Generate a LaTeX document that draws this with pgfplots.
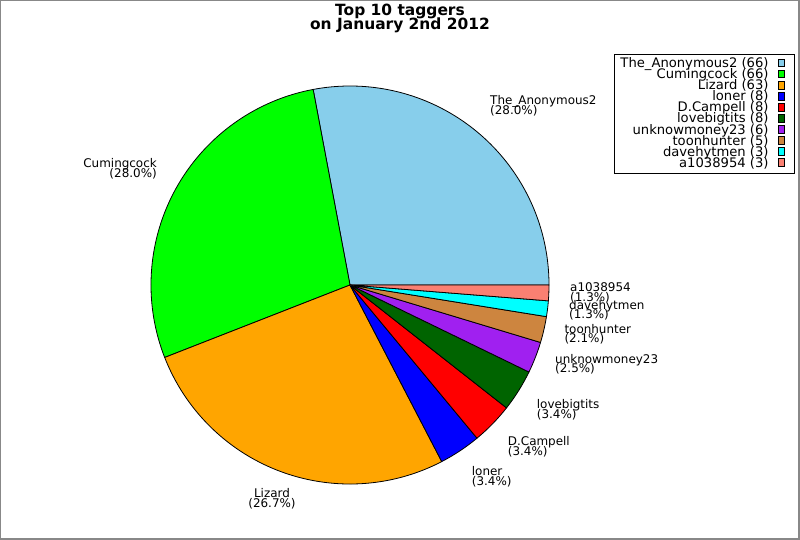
\documentclass[border=0pt]{standalone}
\usepackage{fontspec}
\setmainfont{DejaVu Sans}
\usepackage{pgfplots}
\pgfplotsset{compat=1.18}

\definecolor{cAnon}{HTML}{87CEEB}
\definecolor{cCum}{HTML}{00FF00}
\definecolor{cLiz}{HTML}{FFA500}
\definecolor{cLon}{HTML}{0000FF}
\definecolor{cDC}{HTML}{FF0000}
\definecolor{cLbt}{HTML}{006400}
\definecolor{cUnk}{HTML}{A020F0}
\definecolor{cToon}{HTML}{CD853F}
\definecolor{cDave}{HTML}{00FFFF}
\definecolor{cA10}{HTML}{FA8072}
\definecolor{framegray}{HTML}{888888}

% #1 = cumulative count before the slice, #2 = count, #3 = colour ; total 236
\newcommand{\slice}[3]{%
  \filldraw[fill=#3, draw=black, line width=0.8bp, line join=round]
    (axis cs:0,0) -- (axis cs:{199*cos(#1/236*360)},{199*sin(#1/236*360)})
    arc[start angle={#1/236*360}, end angle={(#1+#2)/236*360}, radius=199bp] -- cycle;}
\newcommand{\labfont}{\fontsize{12}{12}\selectfont}
% #1 x, #2 baseline y, #3 anchor, #4 name, #5 percent
\newcommand{\lab}[5]{%
  \node[anchor=#3, inner sep=0pt, font=\labfont] at (axis cs:#1,#2) {#4};
  \node[anchor=#3, inner sep=0pt, font=\labfont] at (axis cs:#1,{#2-9.5}) {#5};}

\pgfplotsset{pieleg/.style={legend image code/.code={%
  \filldraw[fill=#1, draw=black, line width=0.8bp] (0bp,-2.6bp) rectangle (6.5bp,4.9bp);
  \path (10bp,0bp);}}}

\begin{document}
\begin{tikzpicture}
\begin{axis}[
  width=800bp, height=540bp, scale only axis,
  xmin=-350, xmax=450, ymin=-255, ymax=285,
  hide axis, clip=false,
  legend style={at={(axis cs:445,230.7)}, anchor=north east,
    draw=black, line width=1bp, fill=white,
    font=\fontsize{13.2}{13.2}\selectfont,
    inner xsep=6bp, inner ysep=3.9bp, row sep=0pt, column sep=9bp,
    nodes={inner sep=0pt, text height=9bp, text depth=2.06bp}},
  legend cell align=right, legend plot pos=right,
]
% frame
\fill[framegray] (axis cs:-350,-255) rectangle (axis cs:450,285);
\fill[white] (axis cs:-349,-253) rectangle (axis cs:448,284);

% pie slices (counts)
\slice{0}{66}{cAnon}
\slice{66}{66}{cCum}
\slice{132}{63}{cLiz}
\slice{195}{8}{cLon}
\slice{203}{8}{cDC}
\slice{211}{8}{cLbt}
\slice{219}{6}{cUnk}
\slice{225}{5}{cToon}
\slice{230}{3}{cDave}
\slice{233}{3}{cA10}

% labels
\lab{140}{180.3}{base west}{The\_Anonymous2}{(28.0\%)}
\lab{-193}{117.3}{base east}{Cumingcock}{(28.0\%)}
\lab{-78}{-212.7}{base}{Lizard}{(26.7\%)}
\lab{121.7}{-191}{base west}{loner}{(3.4\%)}
\lab{157.7}{-161}{base west}{D.Campell}{(3.4\%)}
\lab{186.7}{-124}{base west}{lovebigtits}{(3.4\%)}
\lab{205}{-78.3}{base west}{unknowmoney23}{(2.5\%)}
\lab{214.3}{-48.3}{base west}{toonhunter}{(2.1\%)}
\lab{219}{-24.3}{base west}{davehytmen}{(1.3\%)}
\lab{220}{-6.7}{base west}{a1038954}{(1.3\%)}

% title
\node[anchor=base, inner sep=0pt, font=\fontsize{15.5}{15.5}\selectfont\bfseries] at (axis cs:50,269) {Top 10 taggers};
\node[anchor=base, inner sep=0pt, font=\fontsize{15.5}{15.5}\selectfont\bfseries] at (axis cs:50,255) {on January 2nd 2012};

% legend
\addlegendimage{pieleg=cAnon}\addlegendentry{The\_Anonymous2 (66)}
\addlegendimage{pieleg=cCum}\addlegendentry{Cumingcock (66)}
\addlegendimage{pieleg=cLiz}\addlegendentry{Lizard (63)}
\addlegendimage{pieleg=cLon}\addlegendentry{loner (8)}
\addlegendimage{pieleg=cDC}\addlegendentry{D.Campell (8)}
\addlegendimage{pieleg=cLbt}\addlegendentry{lovebigtits (8)}
\addlegendimage{pieleg=cUnk}\addlegendentry{unknowmoney23 (6)}
\addlegendimage{pieleg=cToon}\addlegendentry{toonhunter (5)}
\addlegendimage{pieleg=cDave}\addlegendentry{davehytmen (3)}
\addlegendimage{pieleg=cA10}\addlegendentry{a1038954 (3)}
\end{axis}
\end{tikzpicture}
\end{document}
